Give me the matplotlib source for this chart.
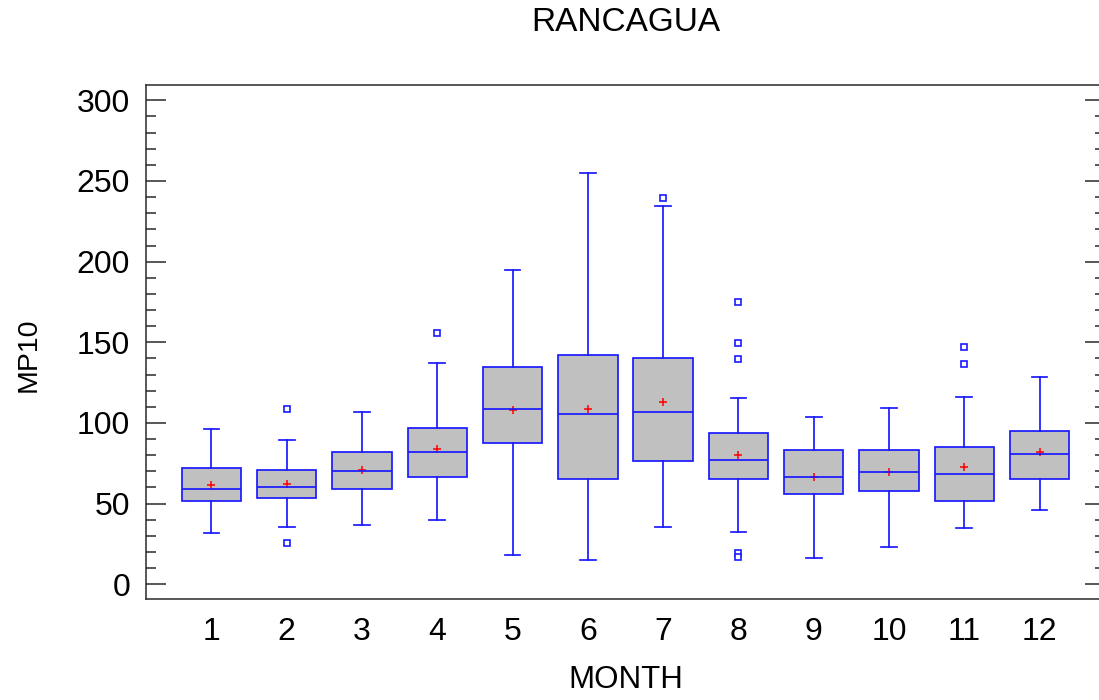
import matplotlib
matplotlib.use("Agg")
import matplotlib.pyplot as plt
from matplotlib.ticker import MultipleLocator

plt.rcParams['font.family'] = ['Liberation Sans', 'DejaVu Sans']

months = [1, 2, 3, 4, 5, 6, 7, 8, 9, 10, 11, 12]
month_labels = [str(m) for m in months]
q1 = [51.8, 53.3, 59.3, 66.7, 87.8, 65.1, 76.2, 65.1, 56.0, 57.6, 51.8, 65.1]
median = [59.3, 60.1, 70.2, 82.0, 108.7, 105.4, 107.0, 76.9, 66.7, 69.4, 68.6, 81.0]
q3 = [71.9, 71.0, 81.8, 96.9, 134.7, 142.1, 140.5, 93.6, 83.4, 83.4, 85.3, 95.0]
mean = [61.7, 62.0, 70.8, 83.7, 108.0, 108.9, 113.0, 80.3, 66.7, 69.4, 72.7, 82.0]
whisker_low = [31.6, 35.7, 36.6, 40.0, 18.2, 14.9, 35.7, 32.4, 16.5, 23.1, 34.9, 45.9]
whisker_high = [96.1, 89.4, 107.0, 137.2, 194.8, 254.8, 234.7, 115.5, 103.7, 109.5, 116.1, 128.7]
outliers = [[], [108.9, 25.8], [], [155.8], [], [], [239.6],
            [175.0, 149.8, 139.7, 19.2, 17.1], [], [], [147.3, 136.4], []]

stats = []
for i, m in enumerate(months):
    stats.append(dict(label=month_labels[i], q1=q1[i], med=median[i], q3=q3[i],
                      mean=mean[i], whislo=whisker_low[i], whishi=whisker_high[i],
                      fliers=outliers[i]))

fig = plt.figure(figsize=(10.99, 7.0), dpi=100)
ax = fig.add_axes([146/1099, 1 - 599.3/700, (1105-146)/1099, 514/700])

blue = '#1a1aff'
lw = 1.25
ax.bxp(stats, positions=months, widths=0.79, patch_artist=True,
       showmeans=True, showfliers=True,
       boxprops=dict(facecolor='#c0c0c0', edgecolor=blue, linewidth=lw),
       medianprops=dict(color=blue, linewidth=lw, zorder=4),
       whiskerprops=dict(color=blue, linewidth=lw),
       capprops=dict(color=blue, linewidth=lw),
       capwidths=0.21,
       flierprops=dict(marker='s', markersize=4.4, markerfacecolor='white',
                       markeredgecolor=blue, markeredgewidth=1.2, linestyle='none'),
       meanprops=dict(marker='+', markersize=6, markeredgecolor='red',
                      markeredgewidth=1.1, zorder=3))

ax.set_xlim(0.13, 12.87)
ax.set_ylim(-9.3, 309.3)
ax.set_xticks(months)
ax.set_xticklabels(month_labels)
ax.yaxis.set_major_locator(MultipleLocator(50))
ax.yaxis.set_minor_locator(MultipleLocator(10))

tick_color = '#2a2a2a'
ax.tick_params(axis='y', which='major', direction='in', length=14.4, width=1.1,
               color=tick_color, left=True, right=True, labelsize=23, pad=11.5)
ax.tick_params(axis='y', which='minor', direction='in', length=7.2, width=1.1,
               color=tick_color, left=True, right=True)
ax.tick_params(axis='x', which='both', length=0, labelsize=23, pad=12.5)

for s in ax.spines.values():
    s.set_color(tick_color)
    s.set_linewidth(1.1)

ax.set_title('RANCAGUA', fontsize=24, pad=39)
ax.set_xlabel('MONTH', fontsize=22.5)
ax.xaxis.label.set_va('baseline')
ax.xaxis.set_label_coords(0.5, -0.1732)
ax.set_ylabel('MP10', fontsize=20.5)
ax.yaxis.label.set_va('baseline')
ax.yaxis.set_label_coords(-0.1147, 0.475)

fig.savefig('out.png', dpi=100)
